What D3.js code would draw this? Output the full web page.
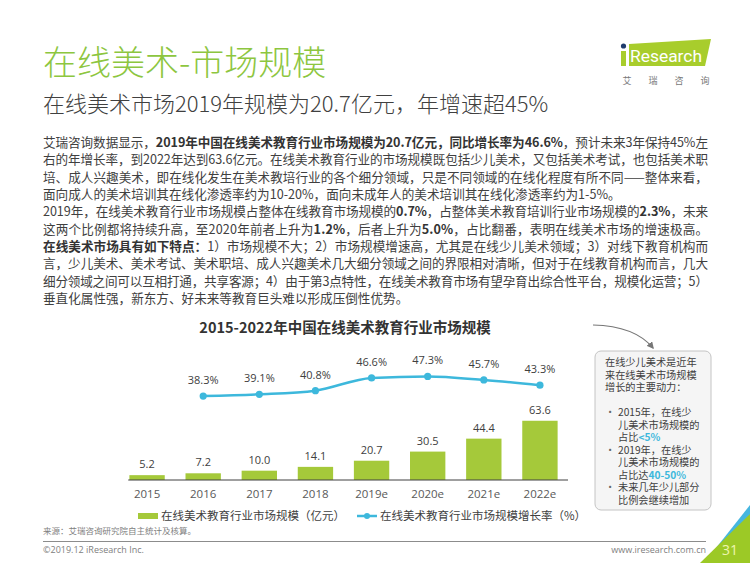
<!DOCTYPE html>
<html><head><meta charset="utf-8">
<script src="https://cdn.jsdelivr.net/npm/d3@7"></script>
<style>
html,body{margin:0;padding:0;background:#fff;}
svg{display:block;font-family:"Open Sans","Noto Sans CJK SC",sans-serif;}
.cjk{font-family:"Noto Sans CJK SC",sans-serif;}
</style></head>
<body>
<svg id="c" width="750" height="563"></svg>
<script>
// ---------------- data ----------------
const years = ["2015","2016","2017","2018","2019e","2020e","2021e","2022e"];
const marketSize = [5.2, 7.2, 10.0, 14.1, 20.7, 30.5, 44.4, 63.6];
const growthYears = ["2016","2017","2018","2019e","2020e","2021e","2022e"];
const growthRate = [38.3, 39.1, 40.8, 46.6, 47.3, 45.7, 43.3];
const seriesNames = ["在线美术教育行业市场规模（亿元）", "在线美术教育行业市场规模增长率（%）"];
const pageTitle = "在线美术-市场规模";
const pageSubtitle = "在线美术市场2019年规模为20.7亿元，年增速超45%";
const chartTitle = "2015-2022年中国在线美术教育行业市场规模";
const sourceText = "来源：艾瑞咨询研究院自主统计及核算。";
const copyrightText = "©2019.12 iResearch Inc.";
const siteText = "www.iresearch.com.cn";
const pageNumber = "31";
// body lines: [text, bold] segments; last flag = paragraph end (not justified)
const bodyLines = [
  [[["艾瑞咨询数据显示，",0],["2019年中国在线美术教育行业市场规模为20.7亿元，同比增长率为46.6%",1],["，预计未来3年保持45%左",0]],0],
  [[["右的年增长率，到2022年达到63.6亿元。在线美术教育行业的市场规模既包括少儿美术，又包括美术考试，也包括美术职",0]],0],
  [[["培、成人兴趣美术，即在线化发生在美术教培行业的各个细分领域，只是不同领域的在线化程度有所不同——整体来看，",0]],0],
  [[["面向成人的美术培训其在线化渗透率约为10-20%，面向未成年人的美术培训其在线化渗透率约为1-5%。",0]],1],
  [[["2019年，在线美术教育行业市场规模占整体在线教育市场规模的",0],["0.7%",1],["，占整体美术教育培训行业市场规模的",0],["2.3%",1],["，未来",0]],0],
  [[["这两个比例都将持续升高，至2020年前者上升为",0],["1.2%",1],["，后者上升为",0],["5.0%",1],["，占比翻番，表明在线美术市场的增速极高。",0]],0],
  [[["在线美术市场具有如下特点：",1],["1）市场规模不大；2）市场规模增速高，尤其是在线少儿美术领域；3）对线下教育机构而",0]],0],
  [[["言，少儿美术、美术考试、美术职培、成人兴趣美术几大细分领域之间的界限相对清晰，但对于在线教育机构而言，几大",0]],0],
  [[["细分领域之间可以互相打通，共享客源；4）由于第3点特性，在线美术教育市场有望孕育出综合性平台，规模化运营；5）",0]],0],
  [[["垂直化属性强，新东方、好未来等教育巨头难以形成压倒性优势。",0]],1]
];
const boxIntro = ["在线少儿美术是近年","来在线美术市场规模","增长的主要动力："];
const boxBullets = [
  [[["2015年，在线少",0]],[["儿美术市场规模的",0]],[["占比",0],["<5%",1]]],
  [[["2019年，在线少",0]],[["儿美术市场规模的",0]],[["占比达",0],["40-50%",1]]],
  [[["未来几年少儿部分",0]],[["比例会继续增加",0]]]
];

// ---------------- styles ----------------
const green = "#a5c93a", cyan = "#3db8dc", titleGreen = "#8dc63f", txt = "#404040";
const svg = d3.select("#c");

// header
svg.append("text").attr("class","cjk").attr("x",43).attr("y",75)
  .attr("font-size",34).attr("font-weight",300).attr("fill",titleGreen).text(pageTitle);
svg.append("text").attr("class","cjk").attr("x",43).attr("y",112)
  .attr("font-size",22).attr("font-weight",300).attr("fill",txt).text(pageSubtitle);

// logo
const logo = svg.append("g");
logo.append("path").attr("d","M629,44 L711,39 L705,66 L629,66 Z").attr("fill","#a8cd2c");
logo.append("rect").attr("x",621).attr("y",51).attr("width",5).attr("height",15).attr("fill","#a8cd2c");
logo.append("circle").attr("cx",623.5).attr("cy",46).attr("r",2.6).attr("fill","#1f3c6e");
logo.append("text").attr("x",630).attr("y",62).attr("font-size",17).attr("fill","#fff")
  .attr("font-family","Roboto,sans-serif").attr("textLength",72).attr("lengthAdjust","spacingAndGlyphs").text("Research");
["艾","瑞","咨","询"].forEach((ch,i)=>{
  logo.append("text").attr("class","cjk").attr("x",627+i*26).attr("y",84).attr("font-size",9)
    .attr("text-anchor","middle").attr("fill","#777").text(ch);
});

// body text
const bodyG = svg.append("g").attr("class","cjk");
const lineY0 = 147, lineStep = 17.35, bodyX = 43, bodyW = 665, bodyFs = 12.6;
bodyLines.forEach((ln,i)=>{
  const t = bodyG.append("text").attr("x",bodyX).attr("y",lineY0+i*lineStep)
    .attr("font-size",bodyFs).attr("fill",txt);
  ln[0].forEach(s=>{
    t.append("tspan").text(s[0]).attr("font-weight",s[1]?700:400).attr("fill",s[1]?"#333":txt);
  });
  if(!ln[1]){
    const nat = t.node().getComputedTextLength();
    const n = ln[0].reduce((a,s)=>a+[...s[0]].length,0);
    const ls = (bodyW-nat)/(n-1);
    t.attr("letter-spacing",ls);
  }
});

// chart
svg.append("text").attr("class","cjk").attr("x",345).attr("y",333).attr("text-anchor","middle")
  .attr("font-size",14.5).attr("font-weight",700).attr("fill","#333").text(chartTitle);

const x = d3.scaleBand().domain(years).range([119,568]).paddingInner(0.37).paddingOuter(0.185);
const yBar = d3.scaleLinear().domain([0,70]).range([480,414.8]);
const yLine = d3.scaleLinear().domain([0,100]).range([480,261]);

svg.append("g").selectAll("rect").data(marketSize).join("rect")
  .attr("x",(d,i)=>x(years[i])).attr("width",x.bandwidth())
  .attr("y",d=>yBar(d)).attr("height",d=>yBar(0)-yBar(d)).attr("fill",green);
svg.append("g").selectAll("text").data(marketSize).join("text")
  .attr("x",(d,i)=>x(years[i])+x.bandwidth()/2).attr("y",d=>yBar(d)-7)
  .attr("text-anchor","middle").attr("font-size",11).attr("fill",txt).text(d=>d.toFixed(1));

const ax = svg.append("g").attr("transform","translate(0,480)")
  .call(d3.axisBottom(x).tickSize(0).tickSizeOuter(0).tickPadding(10));
ax.select(".domain").remove();
ax.append("line").attr("x1",x(years[0])-x.step()*0.02).attr("x2",x.range()[1])
  .attr("stroke","#404040").attr("stroke-width",1);
ax.selectAll("text").attr("font-size",11.5).attr("fill","#595959").attr("font-family","'Open Sans',sans-serif");

const cx = d=>x(d)+x.bandwidth()/2;
const line = d3.line().x((d,i)=>cx(growthYears[i])).y(d=>yLine(d)).curve(d3.curveMonotoneX);
svg.append("path").datum(growthRate).attr("d",line).attr("fill","none").attr("stroke",cyan).attr("stroke-width",2.5);
svg.append("g").selectAll("circle").data(growthRate).join("circle")
  .attr("cx",(d,i)=>cx(growthYears[i])).attr("cy",d=>yLine(d)).attr("r",3.6).attr("fill",cyan);
svg.append("g").selectAll("text").data(growthRate).join("text")
  .attr("x",(d,i)=>cx(growthYears[i])).attr("y",d=>yLine(d)-12)
  .attr("text-anchor","middle").attr("font-size",11).attr("fill",txt).text(d=>d.toFixed(1)+"%");

// legend
const lg = svg.append("g").attr("class","cjk");
lg.append("rect").attr("x",138).attr("y",513).attr("width",20).attr("height",6).attr("fill",green);
lg.append("text").attr("x",161).attr("y",520).attr("font-size",11.5).attr("fill",txt).text(seriesNames[0]);
lg.append("line").attr("x1",357).attr("x2",377).attr("y1",516).attr("y2",516).attr("stroke",cyan).attr("stroke-width",2.5);
lg.append("circle").attr("cx",367).attr("cy",516).attr("r",3).attr("fill",cyan);
lg.append("text").attr("x",380).attr("y",520).attr("font-size",11.5).attr("fill",txt).text(seriesNames[1]);

// callout box
const defs = svg.append("defs");
defs.append("marker").attr("id","ah").attr("viewBox","0 0 10 10").attr("refX",8).attr("refY",5)
  .attr("markerWidth",6).attr("markerHeight",6).attr("orient","auto")
  .append("path").attr("d","M0,0 L10,5 L0,10 Z").attr("fill","#777");
svg.append("path").attr("d","M593,325 Q635,326 653,348").attr("fill","none")
  .attr("stroke","#777").attr("stroke-width",1.2).attr("marker-end","url(#ah)");
svg.append("rect").attr("x",595).attr("y",351).attr("width",116).attr("height",159).attr("rx",6)
  .attr("fill","#f5f5f5").attr("stroke","#c4c4c4").attr("stroke-width",1);
const bx = svg.append("g").attr("class","cjk").attr("font-size",10.2).attr("fill",txt);
const bStep = 12.5;
boxIntro.forEach((s,i)=>{
  bx.append("text").attr("x",605).attr("y",366+i*bStep).text(s);
});
let row = 4;
boxBullets.forEach(b=>{
  bx.append("text").attr("x",605).attr("y",366+row*bStep).attr("fill","#666").text("•");
  b.forEach(ln=>{
    const t = bx.append("text").attr("x",618).attr("y",366+row*bStep);
    ln.forEach(s=>t.append("tspan").text(s[0]).attr("font-weight",s[1]?700:400).attr("fill",s[1]?cyan:txt));
    row++;
  });
});

// footer
svg.append("text").attr("class","cjk").attr("x",43).attr("y",534).attr("font-size",8.5).attr("fill","#808080").text(sourceText);
svg.append("line").attr("x1",43).attr("x2",706).attr("y1",541.5).attr("y2",541.5).attr("stroke","#8c8c8c").attr("stroke-width",1);
svg.append("text").attr("x",43).attr("y",553).attr("font-size",9).attr("fill","#808080").text(copyrightText);
svg.append("text").attr("x",706).attr("y",553).attr("text-anchor","end").attr("font-size",9).attr("fill","#808080").text(siteText);
svg.append("path").attr("d","M716,548 L750,505 L750,530 Z").attr("fill","#45b6e0");
svg.append("path").attr("d","M700,563 L750,514 L750,563 Z").attr("fill","#9cc926");
svg.append("text").attr("x",730).attr("y",555).attr("text-anchor","middle").attr("font-size",14)
  .attr("fill","#eef6b0").text(pageNumber);
</script>
</body></html>
